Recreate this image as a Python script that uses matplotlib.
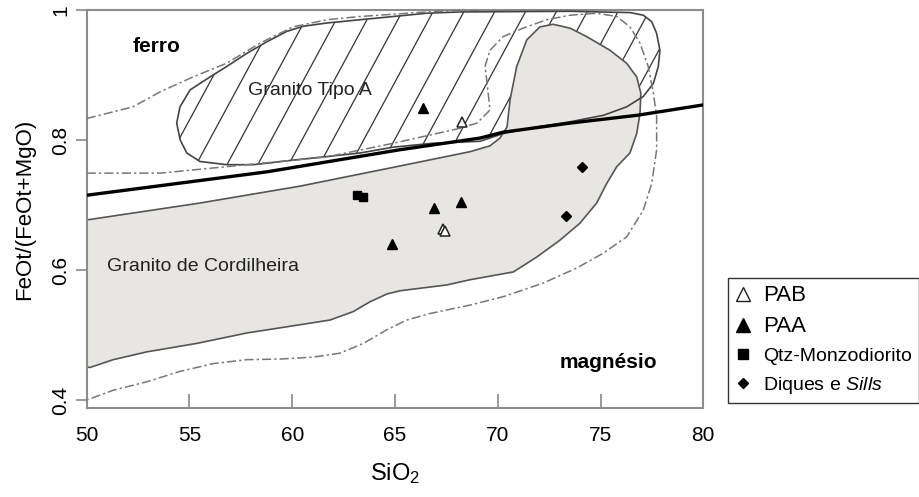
import matplotlib
matplotlib.use("Agg")
import matplotlib.pyplot as plt
from matplotlib.patches import Polygon
from matplotlib.lines import Line2D
import numpy as np

plt.rcParams['font.family'] = ['Liberation Sans', 'DejaVu Sans']
plt.rcParams['mathtext.fontset'] = 'custom'
plt.rcParams['mathtext.rm'] = 'Liberation Sans'
plt.rcParams['mathtext.it'] = 'Liberation Sans:italic'

# sample points (SiO2, FeOt/(FeOt+MgO))
pab_x = [67.35, 67.42, 68.25]
pab_y = [0.663, 0.660, 0.827]
paa_x = [66.38, 66.91, 68.23, 64.87]
paa_y = [0.849, 0.696, 0.704, 0.640]
qtz_x = [63.14, 63.46]
qtz_y = [0.715, 0.712]
dq_x = [74.08, 73.31]
dq_y = [0.759, 0.683]

# Granito de Cordilheira field (grey)
cord_x = [50.0, 55.51, 60.38, 65.24, 68.65, 69.62, 70.11, 70.45, 70.60, 70.92, 71.41,
          72.05, 72.70, 73.52, 74.33, 75.46, 76.27, 76.76, 76.96, 76.92, 76.76, 76.43,
          75.79, 75.30, 74.81, 74.00, 73.03, 71.90, 70.76, 68.65, 67.52, 65.24, 64.60,
          63.78, 62.97, 61.84, 60.22, 57.78, 55.35, 52.92, 51.29, 50.16, 50.0]
cord_y = [0.677, 0.703, 0.729, 0.760, 0.782, 0.791, 0.803, 0.820, 0.862, 0.913, 0.954,
          0.974, 0.978, 0.972, 0.959, 0.938, 0.918, 0.897, 0.872, 0.841, 0.810, 0.780,
          0.759, 0.733, 0.703, 0.672, 0.646, 0.620, 0.597, 0.585, 0.577, 0.568, 0.563,
          0.551, 0.536, 0.523, 0.515, 0.503, 0.487, 0.474, 0.462, 0.450, 0.451]

# Granito Tipo A field (hatched)
tipoa_x = [54.55, 54.38, 54.54, 55.03, 56.00, 56.81, 57.78, 58.76, 59.73, 60.54, 61.68,
           63.30, 64.92, 66.54, 68.16, 73.52, 76.44, 77.08, 77.49, 77.73, 77.89, 77.81,
           77.57, 77.08, 76.27, 75.14, 73.52, 71.90, 70.27, 69.14, 66.85, 64.92, 63.30,
           60.05, 58.11, 56.81, 55.51, 54.87]
tipoa_y = [0.800, 0.826, 0.851, 0.877, 0.897, 0.913, 0.933, 0.951, 0.967, 0.975, 0.980,
           0.985, 0.990, 0.995, 0.997, 0.998, 0.996, 0.992, 0.982, 0.964, 0.938, 0.913,
           0.887, 0.867, 0.851, 0.838, 0.828, 0.820, 0.810, 0.798, 0.795, 0.789, 0.780,
           0.769, 0.762, 0.762, 0.767, 0.780]

# ferro / magnesio divide
div_x = [50.0, 58.77, 65.24, 69.14, 70.26, 73.52, 76.78, 80.0]
div_y = [0.715, 0.751, 0.785, 0.803, 0.812, 0.826, 0.838, 0.854]

# dash-dot envelopes
env1_x = [50.0, 53.57, 58.44, 61.68, 64.92, 68.16, 68.99, 69.62, 69.48, 69.38, 69.62,
          70.26, 71.23, 72.38, 73.52, 74.81, 75.79, 76.43, 76.92, 77.32, 77.57, 77.73,
          77.73, 77.49, 77.08, 76.27, 75.14, 73.84, 72.22, 70.27, 68.65, 66.70, 65.57,
          64.60, 63.46, 62.32, 61.03, 59.41, 57.78, 56.16, 54.54, 52.92, 51.29, 50.0]
env1_y = [0.749, 0.749, 0.764, 0.774, 0.795, 0.818, 0.826, 0.846, 0.888, 0.913, 0.938,
          0.959, 0.972, 0.985, 0.992, 0.995, 0.990, 0.974, 0.949, 0.913, 0.872, 0.836,
          0.785, 0.733, 0.692, 0.651, 0.626, 0.603, 0.580, 0.559, 0.546, 0.533, 0.523,
          0.508, 0.487, 0.472, 0.466, 0.463, 0.462, 0.456, 0.444, 0.428, 0.415, 0.400]
env2_x = [50.0, 52.25, 53.57, 55.17, 56.81, 58.43, 60.04, 61.68, 63.30, 66.54, 69.14]
env2_y = [0.833, 0.851, 0.874, 0.897, 0.918, 0.949, 0.974, 0.985, 0.990, 0.997, 1.000]

fig = plt.figure(figsize=(9.19, 4.97), dpi=100)
ax = fig.add_axes([0.0943, 0.1791, 0.6710, 0.8008])

# hatched Tipo A field
tipo_patch = Polygon(np.column_stack([tipoa_x, tipoa_y]), closed=True,
                     facecolor='white', edgecolor='none', zorder=1)
ax.add_patch(tipo_patch)
k = 0.0585   # hatch slope
for x0 in np.arange(57.95 - 1.5 * 6, 82, 1.5):
    hl, = ax.plot([x0, x0 + 0.27 / k], [0.74, 1.01], color='#333333', lw=0.9, zorder=1.5)
    hl.set_clip_path(tipo_patch)

ax.add_patch(Polygon(np.column_stack([cord_x, cord_y]), closed=True,
                     facecolor='#e8e6e3', edgecolor='#555555', lw=1.2, zorder=2))
ax.add_patch(Polygon(np.column_stack([tipoa_x, tipoa_y]), closed=True,
                     facecolor='none', edgecolor='#444444', lw=1.2, zorder=3))

ax.plot(env1_x, env1_y, color='#777777', lw=1.1, ls=(0, (6, 2, 1.5, 2)), zorder=3)
ax.plot(env2_x, env2_y, color='#777777', lw=1.1, ls=(0, (6, 2, 1.5, 2)), zorder=3)
ax.plot(div_x, div_y, color='black', lw=2.4, zorder=4)

ax.plot(pab_x, pab_y, ls='none', marker='^', ms=7, mfc='white', mec='#222222', mew=1.1, zorder=5)
ax.plot(paa_x, paa_y, ls='none', marker='^', ms=7, color='black', zorder=5)
ax.plot(qtz_x, qtz_y, ls='none', marker='s', ms=6, color='black', zorder=5)
ax.plot(dq_x, dq_y, ls='none', marker='D', ms=5, color='black', zorder=5)

ax.text(53.4, 0.944, 'ferro', fontsize=15, fontweight='bold', ha='center', va='center')
ax.text(60.84, 0.876, 'Granito Tipo A', fontsize=14, ha='center', va='center', color='#222222', zorder=6)
ax.text(55.68, 0.606, 'Granito de Cordilheira', fontsize=14, ha='center', va='center', color='#222222', zorder=6)
ax.text(75.38, 0.458, 'magnésio', fontsize=15, fontweight='bold', ha='center', va='center')

ax.set_xlim(50, 80)
ax.set_ylim(0.3877, 1.0)
ax.set_xticks([50, 55, 60, 65, 70, 75, 80])
ax.set_yticks([0.4, 0.6, 0.8, 1.0])
ax.set_yticklabels(['0.4', '0.6', '0.8', '1'], rotation=90, va='center')
ax.tick_params(axis='x', direction='in', length=10, width=1.2, color='#888888', labelsize=15, pad=13)
ax.tick_params(axis='y', direction='out', length=8, width=1.2, color='#888888', labelsize=15, pad=4)
for s in ax.spines.values():
    s.set_color('#8c8c8c')
    s.set_linewidth(1.5)

ax.set_xlabel('SiO$_2$', fontsize=17)
ax.set_ylabel('FeOt/(FeOt+MgO)', fontsize=16)
ax.yaxis.set_label_coords(-0.084, 0.5)
ax.xaxis.set_label_coords(0.5, -0.133)

handles = [
    Line2D([], [], ls='none', marker='^', ms=10, mfc='white', mec='#222222', mew=1.0),
    Line2D([], [], ls='none', marker='^', ms=10, color='black'),
    Line2D([], [], ls='none', marker='s', ms=7, color='black'),
    Line2D([], [], ls='none', marker='D', ms=5.5, color='black'),
]
labels = ['PAB', 'PAA', 'Qtz-Monzodiorito', 'Diques e $\\mathit{Sills}$']
leg = fig.legend(handles, labels, loc='upper left', bbox_to_anchor=(0.792, 0.4406),
                 borderaxespad=0, fancybox=False, edgecolor='#333333', framealpha=1,
                 prop={'size': 14}, handlelength=0.85, handletextpad=0.6,
                 borderpad=0.35, labelspacing=0.52)
leg.get_frame().set_linewidth(1.0)
leg.get_texts()[0].set_fontsize(16)
leg.get_texts()[1].set_fontsize(16)

fig.savefig('out.png', dpi=100)
